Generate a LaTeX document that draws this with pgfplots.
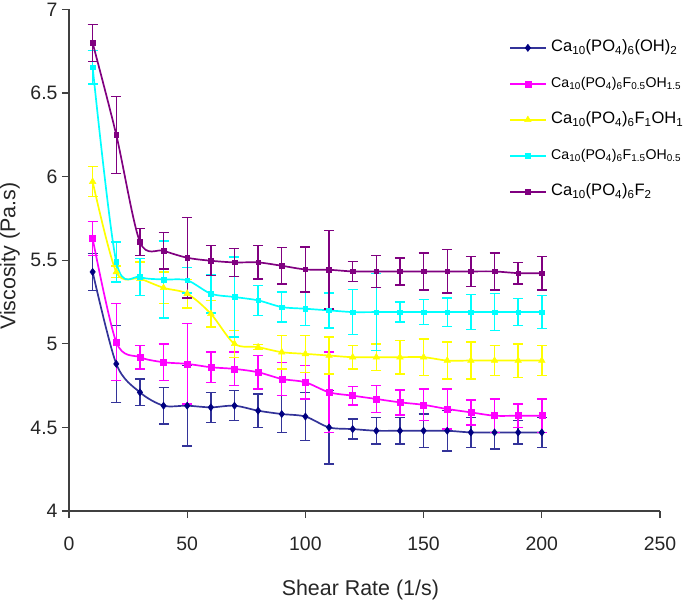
\documentclass[border=0pt]{standalone}
\usepackage{fontspec}
\setmainfont{Liberation Sans}
\usepackage{pgfplots}
\pgfplotsset{compat=1.18}
\usepackage{pgfplotstable}

\definecolor{navyl}{HTML}{333399}
\definecolor{navym}{HTML}{000080}
\definecolor{mag}{HTML}{FF00FF}
\definecolor{yel}{HTML}{FFFF00}
\definecolor{cya}{HTML}{00FFFF}
\definecolor{pur}{HTML}{800080}
\definecolor{axgray}{HTML}{404040}

\pgfplotstableread{
x y e
10 5.43 0.11
20 4.88 0.23
30 4.71 0.08
40 4.63 0.11
50 4.63 0.24
60 4.62 0.09
70 4.63 0.09
80 4.60 0.10
90 4.58 0.11
100 4.565 0.145
110 4.50 0.22
120 4.49 0.06
130 4.48 0.08
140 4.48 0.08
150 4.48 0.10
160 4.48 0.12
170 4.47 0.09
180 4.47 0.10
190 4.47 0.07
200 4.47 0.09
}\tblA

\pgfplotstableread{
x y e
10 5.63 0.10
20 5.01 0.23
30 4.92 0.07
40 4.89 0.11
50 4.88 0.24
60 4.86 0.09
70 4.85 0.10
80 4.83 0.10
90 4.79 0.10
100 4.77 0.10
110 4.71 0.24
120 4.69 0.055
130 4.67 0.08
140 4.65 0.075
150 4.635 0.095
160 4.61 0.12
170 4.59 0.075
180 4.57 0.10
190 4.57 0.07
200 4.57 0.10
}\tblB

\pgfplotstableread{
x y e
10 5.97 0.09
20 5.43 0.035
30 5.39 0.10
40 5.335 0.095
50 5.30 0.085
60 5.18 0.08
70 5.00 0.08
80 4.98 0.015
90 4.95 0.10
100 4.94 0.11
110 4.93 0.11
120 4.92 0.07
130 4.92 0.08
140 4.92 0.10
150 4.92 0.11
160 4.90 0.11
170 4.90 0.11
180 4.90 0.09
190 4.90 0.10
200 4.90 0.09
}\tblC

\pgfplotstableread{
x y e
10 6.655 0.10
20 5.49 0.12
30 5.40 0.11
40 5.385 0.23
50 5.38 0.075
60 5.30 0.115
70 5.28 0.24
80 5.26 0.09
90 5.22 0.09
100 5.21 0.10
110 5.20 0.105
120 5.19 0.135
130 5.19 0.23
140 5.19 0.06
150 5.19 0.075
160 5.19 0.085
170 5.19 0.105
180 5.19 0.11
190 5.19 0.08
200 5.19 0.10
}\tblD

\pgfplotstableread{
x y e
10 6.80 0.11
20 6.25 0.23
30 5.61 0.08
40 5.557 0.11
50 5.515 0.24
60 5.497 0.09
70 5.487 0.085
80 5.487 0.10
90 5.467 0.11
100 5.445 0.135
110 5.443 0.235
120 5.433 0.06
130 5.433 0.095
140 5.433 0.08
150 5.433 0.11
160 5.433 0.13
170 5.433 0.09
180 5.433 0.11
190 5.423 0.065
200 5.423 0.10
}\tblE

\newcommand{\sub}[1]{\textsubscript{#1}}
\newcommand{\legbig}{\fontsize{16.6}{20}\selectfont}
\newcommand{\legsmall}{\fontsize{14.2}{18}\selectfont}

\begin{document}
\begin{tikzpicture}
\useasboundingbox (-69bp,-89bp) rectangle (616bp,511bp);
\begin{axis}[
  at={(0,0)}, anchor=south west,
  scale only axis, width=591bp, height=501.5bp,
  xmin=0, xmax=250, ymin=4, ymax=7,
  enlargelimits=false,
  axis lines=left,
  axis line style={-, line width=1.3pt, color=axgray},
  tick align=outside,
  major tick length=7bp,
  tick style={line width=1.2pt, color=axgray},
  xtick={0,50,100,150,200,250},
  ytick={4,4.5,5,5.5,6,6.5,7},
  /pgf/number format/assume math mode=true,
  ticklabel style={font=\fontsize{19.5}{22}\selectfont, color=black!85},
  xticklabel style={yshift=-15bp},
  yticklabel style={xshift=-1bp},
  xlabel={Shear Rate (1/s)},
  ylabel={Viscosity (Pa.s)},
  label style={font=\fontsize{21.5}{24}\selectfont, color=black!85},
  xlabel style={at={(axis description cs:0.493,-0.158)}, anchor=center},
  ylabel style={at={(axis description cs:-0.1,0.508)}, anchor=center},
  legend style={draw=none, fill=none, at={(axis description cs:0.740,0.780)}, anchor=west,
    legend cell align=left,
    nodes={inner sep=1pt, text height=13bp, text depth=5bp},
    row sep=16bp,
    /tikz/every odd column/.append style={column sep=4bp}},
  legend image code/.code={\draw[mark repeat=2,mark phase=2,#1] plot coordinates {(0bp,0bp) (17.5bp,0bp) (35bp,0bp)};},
  error bars/y dir=both,
  error bars/y explicit,
]
\addplot[color=navyl, line width=1.7pt, smooth, tension=0.5, mark=diamond*,
  mark options={fill=navym, draw=navym, line width=0.5pt, mark size=3.6bp},
  error bars/.cd, error bar style={line width=1.4pt, color=navyl}, error mark=-,
  error mark options={rotate=90, line width=1.4pt, mark size=5bp, color=navyl}]
  table[x=x, y=y, y error=e] {\tblA};
\addlegendentry{\legbig Ca\sub{10}(PO\sub{4})\sub{6}(OH)\sub{2}}
\addplot[color=mag, line width=1.7pt, smooth, tension=0.5, mark=square*,
  mark options={fill=mag, draw=mag, line width=0.5pt, mark size=3bp},
  error bars/.cd, error bar style={line width=1.4pt, color=mag}, error mark=-,
  error mark options={rotate=90, line width=1.4pt, mark size=5bp, color=mag}]
  table[x=x, y=y, y error=e] {\tblB};
\addlegendentry{\legsmall Ca\sub{10}(PO\sub{4})\sub{6}F\sub{0.5}OH\sub{1.5}}
\addplot[color=yel, line width=1.7pt, smooth, tension=0.5, mark=triangle*,
  mark options={fill=yel, draw=yel, line width=0.5pt, mark size=3.8bp},
  error bars/.cd, error bar style={line width=1.4pt, color=yel}, error mark=-,
  error mark options={rotate=90, line width=1.4pt, mark size=5bp, color=yel}]
  table[x=x, y=y, y error=e] {\tblC};
\addlegendentry{\legbig Ca\sub{10}(PO\sub{4})\sub{6}F\sub{1}OH\sub{1}}
\addplot[color=cya, line width=1.7pt, smooth, tension=0.5, mark=square*,
  mark options={fill=cya, draw=cya, line width=0.5pt, mark size=2.3bp},
  error bars/.cd, error bar style={line width=1.4pt, color=cya}, error mark=-,
  error mark options={rotate=90, line width=1.4pt, mark size=5bp, color=cya}]
  table[x=x, y=y, y error=e] {\tblD};
\addlegendentry{\legsmall Ca\sub{10}(PO\sub{4})\sub{6}F\sub{1.5}OH\sub{0.5}}
\addplot[color=pur, line width=1.7pt, smooth, tension=0.5, mark=square*,
  mark options={fill=pur, draw=pur, line width=0.5pt, mark size=2.3bp},
  error bars/.cd, error bar style={line width=1.4pt, color=pur}, error mark=-,
  error mark options={rotate=90, line width=1.4pt, mark size=5bp, color=pur}]
  table[x=x, y=y, y error=e] {\tblE};
\addlegendentry{\legbig Ca\sub{10}(PO\sub{4})\sub{6}F\sub{2}}
\end{axis}
\end{tikzpicture}
\end{document}
